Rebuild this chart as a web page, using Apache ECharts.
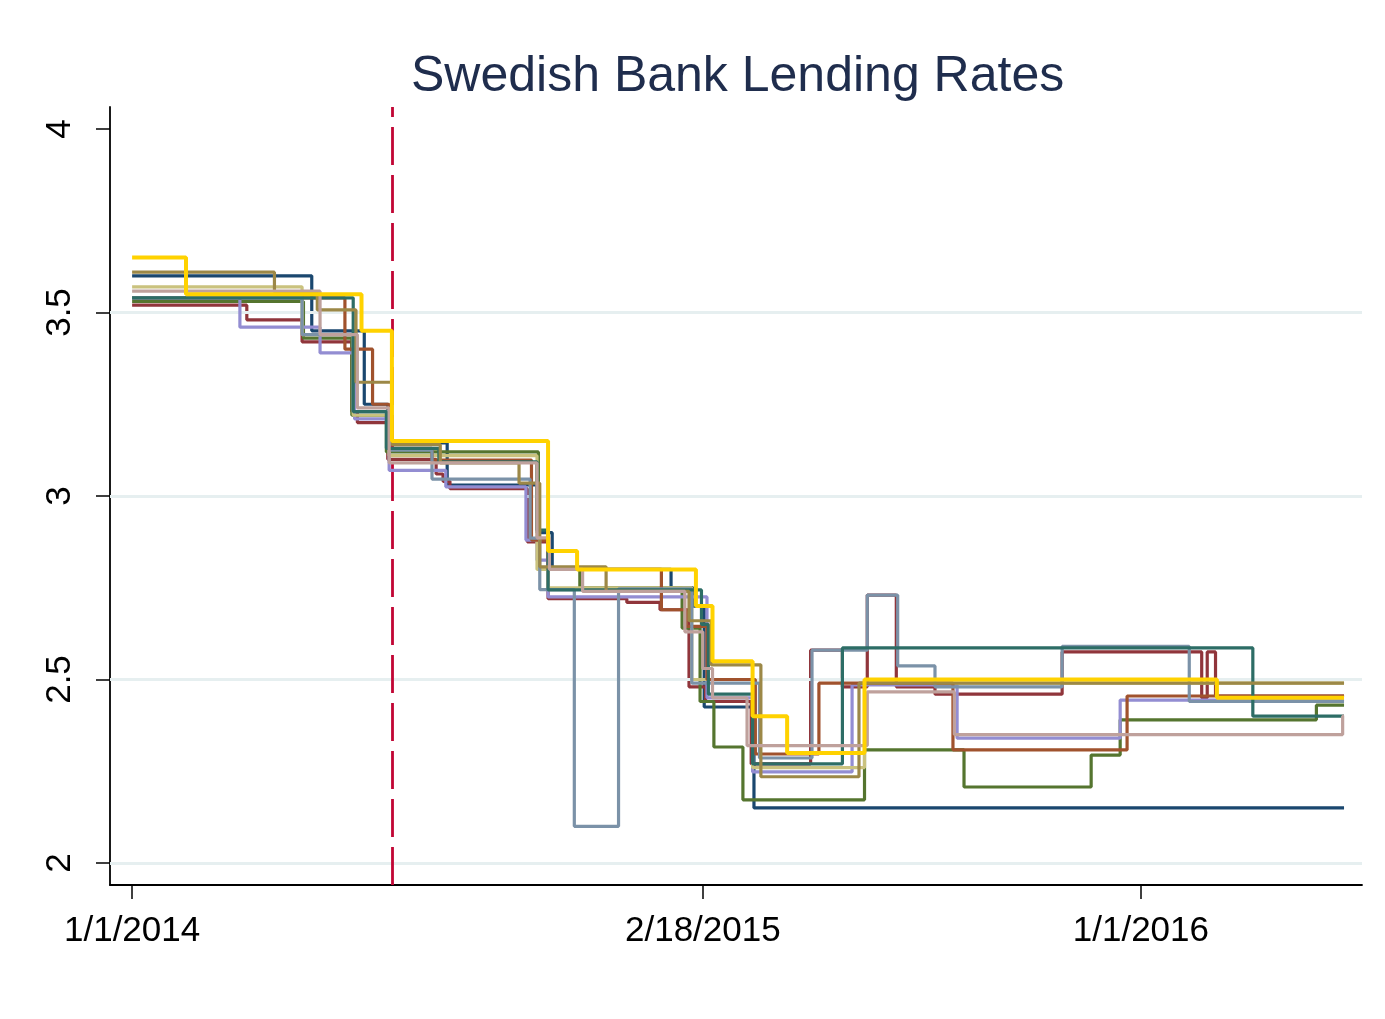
<!DOCTYPE html>
<html>
<head>
<meta charset="utf-8">
<title>Swedish Bank Lending Rates</title>
<script src="https://cdn.jsdelivr.net/npm/echarts@6/dist/echarts.min.js"></script>
<style>
  html, body { margin: 0; padding: 0; background: #fff; }
  #main { width: 1385px; height: 1019px; }
</style>
</head>
<body>
<div id="main"></div>
<script>
// rate per bank: [date of change, rate], each rate holds until the next date
var navy = [['2014-01-01', 3.60], ['2014-05-11', 3.45], ['2014-06-18', 3.25], ['2014-07-05', 3.145], ['2014-08-17', 3.03],
  ['2014-10-21', 2.90], ['2014-11-01', 2.80], ['2015-01-26', 2.75], ['2015-02-11', 2.70], ['2015-02-19', 2.425],
  ['2015-03-27', 2.15], ['2016-05-27', 2.15]]
var maroon = [['2014-01-01', 3.52], ['2014-03-25', 3.48], ['2014-05-04', 3.42], ['2014-06-09', 3.23], ['2014-06-13', 3.20],
  ['2014-07-05', 3.10], ['2014-08-09', 3.06], ['2014-08-14', 3.04], ['2014-08-19', 3.02], ['2014-10-14', 2.875],
  ['2014-10-29', 2.72], ['2014-12-25', 2.71], ['2015-01-18', 2.69], ['2015-02-08', 2.48], ['2015-02-20', 2.44],
  ['2015-03-25', 2.27], ['2015-05-07', 2.58], ['2015-05-30', 2.48], ['2015-06-17', 2.73], ['2015-07-08', 2.48],
  ['2015-08-05', 2.46], ['2015-11-05', 2.575], ['2016-02-14', 2.45], ['2016-02-18', 2.575], ['2016-02-24', 2.455],
  ['2016-05-27', 2.455]]
var forest = [['2014-01-01', 3.53], ['2014-05-05', 3.43], ['2014-06-09', 3.22], ['2014-07-04', 3.12], ['2014-10-22', 2.80],
  ['2014-11-21', 2.75], ['2015-02-03', 2.64], ['2015-02-16', 2.44], ['2015-02-26', 2.316], ['2015-03-19', 2.172],
  ['2015-06-15', 2.308], ['2015-08-26', 2.207], ['2015-11-26', 2.294], ['2015-12-17', 2.39], ['2016-05-07', 2.43],
  ['2016-05-27', 2.43]]
var lavender = [['2014-01-01', 3.54], ['2014-03-20', 3.46], ['2014-05-17', 3.39], ['2014-06-11', 3.21], ['2014-07-06', 3.07],
  ['2014-08-16', 3.025], ['2014-10-13', 2.88], ['2014-10-21', 2.825], ['2014-10-29', 2.725], ['2015-02-21', 2.45],
  ['2015-03-26', 2.248], ['2015-06-06', 2.485], ['2015-08-21', 2.34], ['2015-12-17', 2.444], ['2016-05-27', 2.444]]
var khaki = [['2014-01-01', 3.57], ['2014-05-04', 3.44], ['2014-06-10', 3.22], ['2014-07-06', 3.11], ['2014-10-21', 2.80],
  ['2014-10-29', 2.75], ['2015-02-10', 2.50], ['2015-03-26', 2.26], ['2015-06-15', 2.49], ['2016-05-27', 2.49]]
var sienna = [['2014-01-01', 3.54], ['2014-06-04', 3.40], ['2014-06-24', 3.25], ['2014-07-06', 3.13], ['2014-08-06', 3.098],
  ['2014-10-17', 2.88], ['2014-10-29', 2.80], ['2015-01-19', 2.69], ['2015-02-06', 2.645], ['2015-02-21', 2.50],
  ['2015-03-28', 2.297], ['2015-05-13', 2.49], ['2015-08-18', 2.308], ['2015-12-22', 2.455], ['2016-05-27', 2.455]]
var emidblue = [['2014-01-01', 3.54], ['2014-05-04', 3.44], ['2014-06-10', 3.23], ['2014-07-06', 3.125], ['2014-08-06', 3.046],
  ['2014-10-16', 2.885], ['2014-10-23', 2.745], ['2014-11-17', 2.10], ['2014-12-19', 2.747], ['2015-02-10', 2.49],
  ['2015-03-31', 2.286], ['2015-05-08', 2.58], ['2015-06-17', 2.73], ['2015-07-09', 2.537], ['2015-08-05', 2.48],
  ['2015-11-05', 2.59], ['2016-02-05', 2.44], ['2016-05-27', 2.44]]
var emerald = [['2014-01-01', 3.54], ['2014-06-10', 3.23], ['2014-07-04', 3.13], ['2014-08-11', 3.093], ['2014-10-21', 2.907],
  ['2014-10-29', 2.744], ['2015-02-17', 2.65], ['2015-02-22', 2.46], ['2015-03-26', 2.27], ['2015-05-30', 2.586],
  ['2016-03-22', 2.40], ['2016-05-27', 2.40]]
var brown = [['2014-01-01', 3.61], ['2014-04-14', 3.556], ['2014-05-15', 3.507], ['2014-06-12', 3.31], ['2014-07-08', 3.14],
  ['2014-08-12', 3.09], ['2014-10-08', 3.035], ['2014-10-23', 2.807], ['2014-12-10', 2.74], ['2015-02-08', 2.66],
  ['2015-02-24', 2.54], ['2015-04-01', 2.235], ['2015-06-11', 2.49], ['2016-05-27', 2.49]]
var erose = [['2014-01-01', 3.558], ['2014-05-17', 3.44], ['2014-06-13', 3.24], ['2014-07-06', 3.09], ['2014-10-21', 2.886],
  ['2014-10-30', 2.80], ['2014-11-23', 2.74], ['2015-02-05', 2.63], ['2015-02-18', 2.53], ['2015-02-25', 2.45],
  ['2015-03-22', 2.32], ['2015-06-17', 2.466], ['2015-08-19', 2.35], ['2016-05-26', 2.40], ['2016-05-27', 2.40]]
var gold = [['2014-01-01', 3.65], ['2014-02-09', 3.55], ['2014-06-16', 3.45], ['2014-07-08', 3.15], ['2014-10-29', 2.85],
  ['2014-11-19', 2.80], ['2015-02-13', 2.70], ['2015-02-25', 2.55], ['2015-03-26', 2.40], ['2015-04-20', 2.30],
  ['2015-06-15', 2.50], ['2016-02-25', 2.45], ['2016-05-27', 2.45]]

var xTicks = ['2014-01-01', '2015-02-18', '2016-01-01']
var yTicks = [2, 2.5, 3, 3.5, 4]
var gridValues = [2, 2.5, 3, 3.5]
var cutDate = '2014-07-08'

function ts (s) { return new Date(s + 'T00:00:00').getTime() }

var banks = [
  { data: navy, color: '#1a476f' },
  { data: maroon, color: '#90353b' },
  { data: forest, color: '#55752f' },
  { data: lavender, color: '#938dd2' },
  { data: khaki, color: '#cac27e' },
  { data: sienna, color: '#a0522d' },
  { data: emidblue, color: '#7b92a8' },
  { data: emerald, color: '#2d6d66' },
  { data: brown, color: '#9c8847' },
  { data: erose, color: '#bfa19c' },
  { data: gold, color: '#ffd200', width: 4 }
]

var series = banks.map(function (b, i) {
  return {
    type: 'line',
    step: 'end',
    symbol: 'none',
    z: 3 + i,
    lineStyle: { color: b.color, width: b.width || 3.2 },
    data: b.data.map(function (p) { return [ts(p[0]), p[1]] })
  }
})

// grid lines and the dashed cut line
series.unshift({
  type: 'line',
  data: [],
  z: 1,
  markLine: {
    silent: true,
    symbol: 'none',
    label: { show: false },
    lineStyle: { color: '#e6eff0', width: 3, type: 'solid' },
    data: gridValues.map(function (v) { return { yAxis: v } })
  }
})
series.push({
  type: 'line',
  data: [],
  z: 20,
  markLine: {
    silent: true,
    symbol: 'none',
    label: { show: false },
    lineStyle: { color: '#c10534', width: 2.8, type: [38, 10] },
    data: [{ xAxis: ts(cutDate) }]
  }
})

var myChart = echarts.init(document.getElementById('main'))
myChart.setOption({
  animation: false,
  backgroundColor: '#fff',
  title: {
    text: 'Swedish Bank Lending Rates',
    left: 406,
    top: 47,
    textStyle: { fontFamily: 'Liberation Sans, Arial, sans-serif', fontSize: 50, fontWeight: 'normal', color: '#1f2d4d' }
  },
  grid: { left: 110, right: 23, top: 107, bottom: 134, containLabel: false },
  xAxis: {
    type: 'value',
    min: ts('2013-12-16'),
    max: ts('2016-06-09'),
    splitLine: { show: false },
    axisLine: { lineStyle: { color: '#000', width: 1.8 } },
    axisTick: { customValues: xTicks.map(ts), length: 14, lineStyle: { color: '#000', width: 1.5 } },
    axisLabel: {
      customValues: xTicks.map(ts),
      margin: 29,
      fontFamily: 'Liberation Sans, Arial, sans-serif',
      fontSize: 35,
      color: '#000',
      formatter: function (v) {
        var d = new Date(v)
        return (d.getMonth() + 1) + '/' + d.getDate() + '/' + d.getFullYear()
      }
    }
  },
  yAxis: {
    type: 'value',
    min: 1.94,
    max: 4.06,
    splitLine: { show: false },
    axisLine: { show: true, lineStyle: { color: '#000', width: 1.8 } },
    axisTick: { show: true, customValues: yTicks, length: 14, lineStyle: { color: '#000', width: 1.5 } },
    axisLabel: {
      customValues: yTicks,
      rotate: 90,
      margin: 32,
      fontFamily: 'Liberation Sans, Arial, sans-serif',
      fontSize: 35,
      color: '#000'
    }
  },
  series: series
})
</script>
</body>
</html>
